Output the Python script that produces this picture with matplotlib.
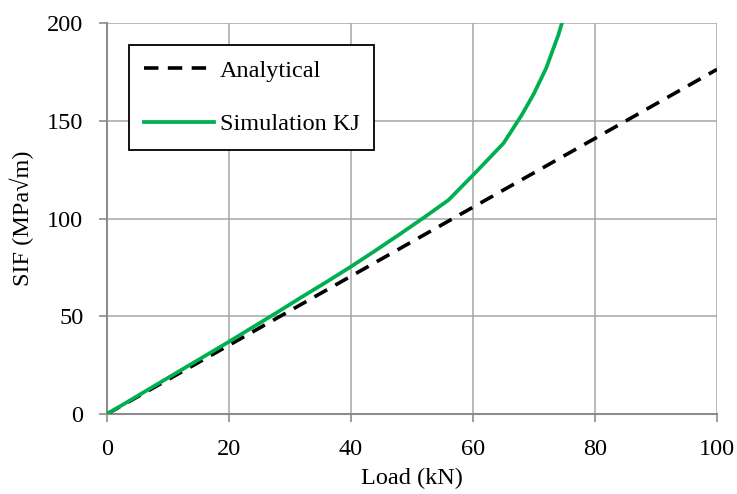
import matplotlib
matplotlib.use("Agg")
import matplotlib.pyplot as plt

plt.rcParams['font.family'] = ['Liberation Serif', 'DejaVu Serif']

load_analytical = [0, 20, 40, 60, 80, 100]
sif_analytical = [0, 35.2, 70.5, 105.8, 141.0, 176.3]

load_sim = [0, 4, 8, 12, 16, 20, 24, 28, 32, 36, 40, 44, 48, 52, 56, 60, 65, 68, 70, 72, 74, 76]
sif_sim = [0, 7.4, 14.8, 22.2, 29.6, 37.0, 44.6, 52.2, 60.0, 67.6, 75.4, 83.6, 92.0, 100.6, 109.5, 122.2, 138.5, 153.0, 164.0, 177.0, 194.0, 215.0]

xticks = [0, 20, 40, 60, 80, 100]
yticks = [0, 50, 100, 150, 200]

FS = 17.5

fig = plt.figure(figsize=(7.37, 4.94), dpi=100)
ax = fig.add_axes([0.1452, 0.1619, 0.8277, 0.7915])

grid_c = '#a6a6a6'
ax.plot(load_analytical, sif_analytical, color='black', lw=2.6, dashes=(4.0, 2.6),
        label='Analytical', zorder=3)
ax.plot(load_sim, sif_sim, color='#00B050', lw=2.7, label='Simulation KJ', zorder=4)

ax.set_xlim(0, 100)
ax.set_ylim(0, 200)
ax.set_xticks(xticks)
ax.set_yticks(yticks)
ax.grid(True, color=grid_c, lw=1.1, zorder=0)
ax.set_axisbelow(True)
for s in ['top', 'right']:
    ax.spines[s].set_visible(False)
for s in ['left', 'bottom']:
    ax.spines[s].set_color('#8c8c8c')
    ax.spines[s].set_linewidth(1.5)
ax.tick_params(axis='both', direction='out', length=6, width=1.2, color='#8c8c8c',
               labelsize=FS)
ax.tick_params(axis='x', pad=12)
ax.tick_params(axis='y', pad=11)

ax.set_xlabel('Load (kN)', fontsize=FS, labelpad=6)
ax.set_ylabel('SIF (MPa√m)', fontsize=FS, labelpad=9)

leg = ax.legend(loc='upper left', bbox_to_anchor=(0.036, 0.944), fontsize=FS,
                frameon=True, fancybox=False, edgecolor='black', framealpha=1,
                handlelength=2.9, handletextpad=0.25, labelspacing=1.3,
                borderpad=0.6, borderaxespad=0)
leg.get_frame().set_linewidth(1.3)

fig.savefig('out.png', dpi=100)
